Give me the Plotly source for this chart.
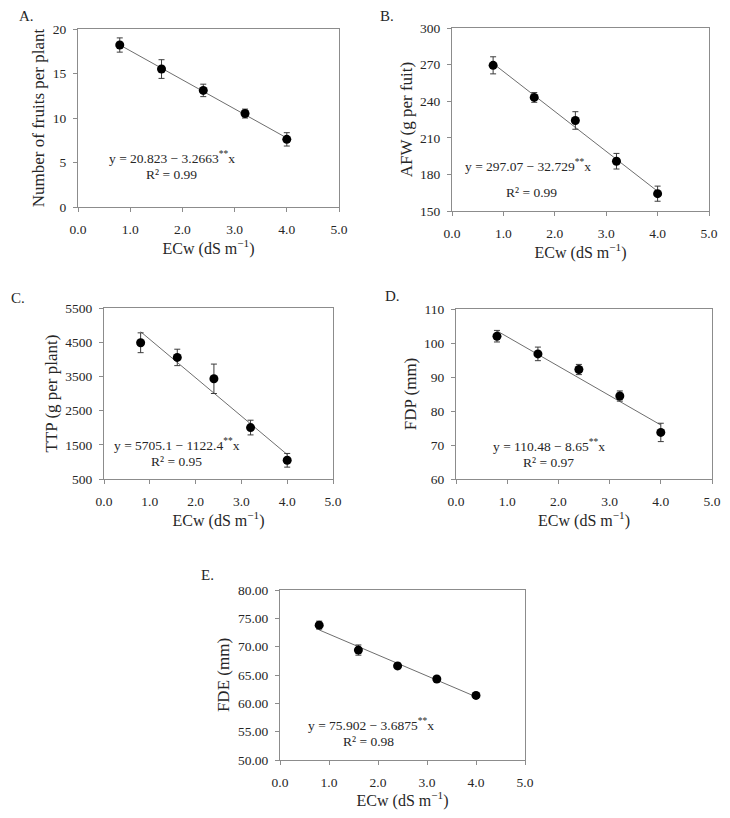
import plotly.graph_objects as go

# ---- data ----
ecw = [0.8, 1.6, 2.4, 3.2, 4.0]

fruits = [18.2, 15.5, 13.1, 10.5, 7.6]
fruits_err = [0.8, 1.05, 0.7, 0.5, 0.75]

afw = [269.4, 243.1, 224.2, 190.8, 164.2]
afw_err = [7.0, 4.0, 7.2, 6.4, 6.2]

ttp = [4484, 4055, 3430, 2004, 1047]
ttp_err = [290, 240, 430, 215, 200]

fdp = [102.0, 96.8, 92.2, 84.4, 73.7]
fdp_err = [1.7, 2.0, 1.5, 1.5, 2.7]

fde = [73.8, 69.4, 66.6, 64.3, 61.4]
fde_err = [0.7, 0.9, 0.5, 0.4, 0.5]

# regression coefficients shown on the chart (intercept, slope)
fits = [(20.823, -3.2663), (297.07, -32.729), (5705.1, -1122.4), (110.48, -8.65), (75.902, -3.6875)]
r2 = ["0.99", "0.99", "0.95", "0.97", "0.98"]
eq_text = [
    "y = 20.823 − 3.2663<sup>**</sup>x",
    "y = 297.07 − 32.729<sup>**</sup>x",
    "y = 5705.1 − 1122.4<sup>**</sup>x",
    "y = 110.48 − 8.65<sup>**</sup>x",
    "y = 75.902 − 3.6875<sup>**</sup>x",
]
ytitles = ["Number of fruits per plant", "AFW (g per fuit)", "TTP (g per plant)", "FDP (mm)", "FDE (mm)"]
labels = ["A.", "B.", "C.", "D.", "E."]
yranges = [(0, 20), (150, 300), (500, 5500), (60, 110), (50, 80)]
ydticks = [5, 30, 1000, 10, 5]
yformats = ["", "", "", "", ".2f"]
xticks = [0, 1, 2, 3, 4, 5]

series = [(fruits, fruits_err), (afw, afw_err), (ttp, ttp_err), (fdp, fdp_err), (fde, fde_err)]

# ---- layout geometry (pixels in the 730x818 window; page body has an 8px margin) ----
OFF = 8
W, H = 730 - 2 * OFF, 818 - 2 * OFF
boxes = [  # left, right, top, bottom
    (78, 339, 29, 207),
    (452, 709, 28, 211),
    (104, 333, 308, 479),
    (456, 712, 309, 479),
    (280, 525, 590, 760),
]
# equation x, equation y, R2 x, R2 y (data units)
eq_pos = [(1.80, 5.6, 1.80, 3.6), (1.47, 187.1, 1.54, 164.8), (1.59, 1515, 1.59, 1026),
          (1.81, 70.0, 1.81, 64.8), (1.85, 56.35, 1.81, 53.2)]
label_pos = [(17, 16), (378, 16), (9, 298), (383, 296), (199, 575)]


def px(x):
    return (x - OFF) / W


def py(y):
    return 1 - (y - OFF) / H


FONT = "Liberation Serif, Times New Roman, serif"
TXT = "#262626"
AX = "#8c8c8c"

fig = go.Figure()
annotations = []
for i in range(5):
    ys, es = series[i]
    sfx = "" if i == 0 else str(i + 1)
    xa, ya = "x" + sfx, "y" + sfx
    b0, b1 = fits[i]
    fig.add_trace(go.Scatter(
        x=[ecw[0], ecw[-1]], y=[b0 + b1 * ecw[0], b0 + b1 * ecw[-1]],
        mode="lines", line=dict(color="#6e6e6e", width=1),
        xaxis=xa, yaxis=ya, showlegend=False, hoverinfo="skip"))
    fig.add_trace(go.Scatter(
        x=ecw, y=ys, mode="markers",
        marker=dict(color="black", size=9),
        error_y=dict(type="data", array=es, color="#3c3c3c", thickness=1, width=3),
        xaxis=xa, yaxis=ya, showlegend=False))
    l, r, t, btm = boxes[i]
    fig.layout["xaxis" + sfx] = dict(
        domain=[px(l), px(r)], anchor=ya, range=[0, 5], tickvals=xticks,
        tickformat=".1f", showgrid=False, zeroline=False, automargin=False,
        showline=True, linecolor=AX, linewidth=1, mirror=True,
        ticks="outside", ticklen=4, tickcolor=AX, ticklabelstandoff=6,
        tickfont=dict(family=FONT, size=13.5, color=TXT),
        title=dict(text="ECw (dS m<sup>−1</sup>)", font=dict(family=FONT, size=16, color=TXT), standoff=5))
    y0, y1 = yranges[i]
    fig.layout["yaxis" + sfx] = dict(
        domain=[py(btm), py(t)], anchor=xa, range=[y0, y1], dtick=ydticks[i], tick0=y0,
        tickformat=yformats[i], showgrid=False, zeroline=False, automargin=False,
        showline=True, linecolor=AX, linewidth=1, mirror=True,
        ticks="outside", ticklen=4, tickcolor=AX, ticklabelstandoff=4,
        tickfont=dict(family=FONT, size=13.5, color=TXT),
        title=dict(text=ytitles[i], font=dict(family=FONT, size=17, color=TXT), standoff=3))
    ex, ey1, rx, ey2 = eq_pos[i]
    annotations.append(dict(x=ex, y=ey1, xref=xa, yref=ya, text=eq_text[i], showarrow=False,
                            font=dict(family=FONT, size=13.5, color=TXT)))
    annotations.append(dict(x=rx, y=ey2, xref=xa, yref=ya, text="R² = " + r2[i], showarrow=False,
                            font=dict(family=FONT, size=13.5, color=TXT)))
    lx, ly = label_pos[i]
    annotations.append(dict(x=px(lx), y=py(ly), xref="paper", yref="paper", text=labels[i],
                            showarrow=False, xanchor="left", yanchor="middle",
                            font=dict(family=FONT, size=15, color=TXT)))

fig.update_layout(width=W, height=H, margin=dict(l=0, r=0, t=0, b=0),
                  paper_bgcolor="white", plot_bgcolor="white", annotations=annotations)
fig.write_html("out.html")
